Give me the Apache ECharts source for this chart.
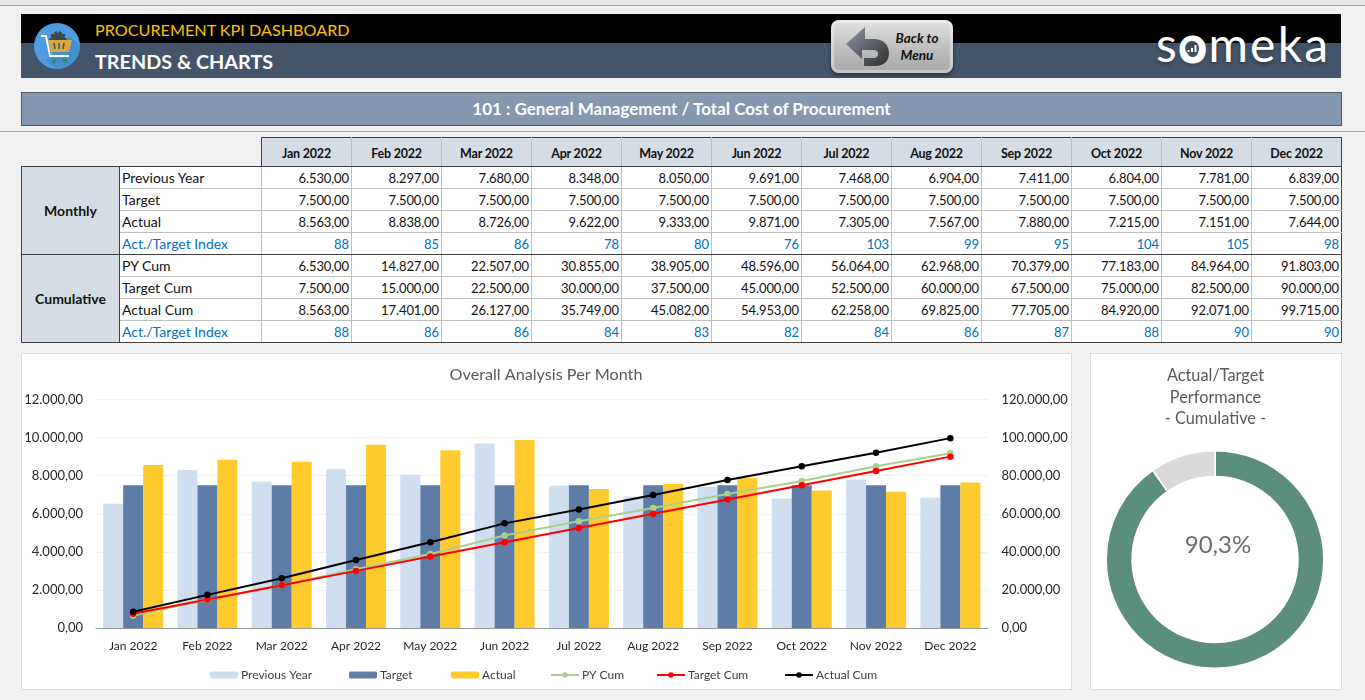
<!DOCTYPE html>
<html lang="en">
<head>
<meta charset="utf-8">
<title>Procurement KPI Dashboard</title>
<script src="https://cdn.jsdelivr.net/npm/echarts@6/dist/echarts.min.js"></script>
<style>
  html, body { margin: 0; padding: 0; }
  body { width: 1365px; height: 700px; position: relative; overflow: hidden; background: #f1f1f1;
         font-family: Lato, "Open Sans", sans-serif; }
  .abs { position: absolute; box-sizing: border-box; }
  #topstrip { left: 0; top: 0; width: 1365px; height: 6px; background: #e6e6e6; border-bottom: 1px solid #a6a6a6; }
  #rule { left: 0; top: 131px; width: 1365px; height: 1px; background: #a6a6a6; }
  #bandTop { left: 21px; top: 14px; width: 1320px; height: 29px; background: #000; }
  #bandBottom { left: 21px; top: 43px; width: 1320px; height: 35px; background: #44546a; }
  #kicker { left: 95px; top: 18px; font-size: 16.2px; line-height: 24px; color: #ffc000; white-space: nowrap; }
  #heading { left: 95px; top: 47px; font-size: 19.8px; line-height: 28px; font-weight: 700; color: #fff; white-space: nowrap; }
  #subbar { left: 21px; top: 92px; width: 1321px; height: 34px; background: #8497b0; border: 1px solid #595959;
            color: #fff; font-weight: 700; font-size: 17px; line-height: 32px; text-align: center; }
  #backBtn { left: 831px; top: 20px; width: 122px; height: 53px; border-radius: 8px;
             background: linear-gradient(#e2e2e2, #bdbdbd 55%, #a9a9a9);
             box-shadow: inset 0 0 0 3px rgba(255,255,255,.35), 0 2px 4px rgba(0,0,0,.45); }
  #backBtn span { position: absolute; left: 62px; width: 48px; text-align: center; font-size: 13.5px; line-height: 16px;
                  font-style: italic; font-weight: 700; color: #111; white-space: nowrap; }
  #brand { left: 1156px; top: 16px; font-size: 48px; line-height: 56px; color: #fff; letter-spacing: 2.2px; white-space: nowrap;
           text-shadow: 0 2px 4px rgba(0,0,0,.35); }
  #brand b { font-weight: 400; -webkit-text-stroke: 3px #fff; }
  table { border-collapse: collapse; table-layout: fixed; position: absolute; left: 21px; top: 137px; width: 1320px; font-size: 14px; color: #111; }
  td, th { padding: 0 2px; height: 22px; box-sizing: border-box; border: 1px solid #bfbfbf; background: #fff; white-space: nowrap; overflow: hidden; }
  thead th { height: 29px; padding-top: 2px; background: #d6dce4; font-size: 12.5px; letter-spacing: -0.2px; font-weight: 700; border-top: 1px solid #404040; border-bottom: 1px solid #404040; border-color: #404040 #bfbfbf; }
  thead th.blank { background: transparent; border: none; border-right: 1px solid #404040; border-bottom: 1px solid #404040; }
  thead th:last-child { border-right: 1px solid #404040; }
  td.num { text-align: right; font-size: 13px; letter-spacing: -0.1px; }
  td:last-child { border-right: 1px solid #404040; }
  td.group { background: #d6dce4; font-weight: 700; text-align: center; border: 1px solid #404040; }
  tr.idx td { color: #0070c0; }
  tr.idx td.group { color: #111; }
  tr.end td { border-bottom: 1px solid #404040; }
  .panel { background: #fff; border: 1px solid #dcdcdc; }
  #panelBars { left: 21px; top: 353px; width: 1051px; height: 337px; }
  #panelRing { left: 1090px; top: 353px; width: 252px; height: 337px; }
  #charts { left: 0; top: 0; width: 1365px; height: 700px; }
</style>
</head>
<body>
<div class="abs" id="topstrip"></div>
<div class="abs" id="bandTop"></div>
<div class="abs" id="bandBottom"></div>

<svg class="abs" style="left:34px;top:23px" width="46" height="46" viewBox="0 0 46 46">
  <circle cx="23" cy="23" r="23" fill="#4f9ddf"/>
  <path d="M23 46A23 23 0 0 0 46 23L36 13 12 38Z" fill="#468fce"/>
  <circle cx="24" cy="17" r="7.5" fill="#3c4652" stroke="#3c4652" stroke-width="2.5" stroke-dasharray="2.5 2"/>
  <path d="M14 17H38L35 29H17Z" fill="#d9a63f"/>
  <path d="M20 20l1 6M25 20v6M30 20l-1 6" stroke="#44546a" stroke-width="1.6"/>
  <path d="M7 13H12L16 33H35" fill="none" stroke="#fff" stroke-width="1.8"/>
  <circle cx="20" cy="38" r="2.4" fill="#2f8a78"/><circle cx="31" cy="38" r="2.4" fill="#2f8a78"/>
</svg>

<div class="abs" id="kicker">PROCUREMENT KPI DASHBOARD</div>
<div class="abs" id="heading">TRENDS &amp; CHARTS</div>

<div class="abs" id="backBtn">
  <svg style="position:absolute;left:12px;top:5px" width="48" height="44" viewBox="0 0 48 44">
    <defs><linearGradient id="arrowShade" x1="0" y1="0" x2="1" y2="1"><stop offset="0" stop-color="#8e98a6"/><stop offset="1" stop-color="#2e2e2e"/></linearGradient></defs>
    <path d="M22 2L3 19L19 34V25H30C34 25 35 27 35 29C35 31 34 33 30 33H21V41H32C41 41 46 36 46 28C46 20 40 14 31 14H22Z" fill="url(#arrowShade)"/>
  </svg>
  <span style="top:10px">Back to</span>
  <span style="top:27px">Menu</span>
</div>

<div class="abs" id="brand">s<b>o</b>meka</div>
<svg class="abs" style="left:1182px;top:38px" width="20" height="20" viewBox="0 0 20 20">
  <circle cx="10" cy="10" r="7" fill="#3f4a58"/>
  <path d="M6.5 14v-2M10 14v-4M13.5 14v-7" stroke="#fff" stroke-width="2"/>
</svg>

<div class="abs" id="subbar">101 : General Management / Total Cost of Procurement</div>
<div class="abs" id="rule"></div>

<table id="kpiTable"></table>

<div class="abs panel" id="panelBars"></div>
<div class="abs panel" id="panelRing"></div>
<div class="abs" id="charts"></div>

<script>
// Reporting periods
const months = ['Jan 2022','Feb 2022','Mar 2022','Apr 2022','May 2022','Jun 2022','Jul 2022','Aug 2022','Sep 2022','Oct 2022','Nov 2022','Dec 2022'];

// Monthly figures
const previousYear = [6530,8297,7680,8348,8050,9691,7468,6904,7411,6804,7781,6839];
const target = [7500,7500,7500,7500,7500,7500,7500,7500,7500,7500,7500,7500];
const actual = [8563,8838,8726,9622,9333,9871,7305,7567,7880,7215,7151,7644];
const monthlyIndex = [88,85,86,78,80,76,103,99,95,104,105,98];

// Running totals
const pyCum = [6530,14827,22507,30855,38905,48596,56064,62968,70379,77183,84964,91803];
const targetCum = [7500,15000,22500,30000,37500,45000,52500,60000,67500,75000,82500,90000];
const actualCum = [8563,17401,26127,35749,45082,54953,62258,69825,77705,84920,92071,99715];
const cumulativeIndex = [88,86,86,84,83,82,84,86,87,88,90,90];

// Ring: share reached, remainder
const performance = [90.3, 9.7];
const performanceLabel = '90,3%';

// Number format used by the table and the axes: 12.345,00
const money = v => Math.floor(v).toString().replace(/\B(?=(\d{3})+(?!\d))/g, '.') + ',00';

// KPI table
const blocks = [
  { name: 'Monthly', rows: [['Previous Year', previousYear, money], ['Target', target, money], ['Actual', actual, money], ['Act./Target Index', monthlyIndex, String]] },
  { name: 'Cumulative', rows: [['PY Cum', pyCum, money], ['Target Cum', targetCum, money], ['Actual Cum', actualCum, money], ['Act./Target Index', cumulativeIndex, String]] }
];
let html = '<colgroup><col style="width:98px"><col style="width:142px">' + months.map(() => '<col style="width:90px">').join('') + '</colgroup>';
html += '<thead><tr><th class="blank" colspan="2"></th>' + months.map(m => '<th>' + m + '</th>').join('') + '</tr></thead><tbody>';
blocks.forEach(block => {
  block.rows.forEach((row, i) => {
    const last = i === block.rows.length - 1;
    html += '<tr class="' + (last ? 'idx end' : '') + '">';
    if (i === 0) html += '<td class="group" rowspan="4">' + block.name + '</td>';
    html += '<td>' + row[0] + '</td>' + row[1].map(v => '<td class="num">' + row[2](v) + '</td>').join('') + '</tr>';
  });
});
document.getElementById('kpiTable').innerHTML = html + '</tbody>';

// Combined bar/line chart and performance ring share one canvas
const chart = echarts.init(document.getElementById('charts'), null, { renderer: 'canvas' });
const face = 'Lato, "Open Sans", sans-serif';
const barSeries = (name, data, color) => ({ name, type: 'bar', data, barWidth: 20, barGap: 0, itemStyle: { color } });
const lineSeries = (name, data, color) => ({
  name, type: 'line', yAxisIndex: 1, data, symbol: 'circle', symbolSize: 6.5, showSymbol: true,
  lineStyle: { color, width: 2 }, itemStyle: { color }, z: 5
});

// Each legend entry is placed on its own so the spacing stays even across text widths
const legendSlots = [['Previous Year', 210], ['Target', 349], ['Actual', 451], ['PY Cum', 550], ['Target Cum', 656], ['Actual Cum', 784]];

chart.setOption({
  animation: false,
  backgroundColor: 'transparent',
  textStyle: { fontFamily: face },
  title: [
    { text: 'Overall Analysis Per Month', left: 541, top: 362, textAlign: 'center',
      textStyle: { fontFamily: face, fontSize: 16.2, fontWeight: 400, color: '#595959' } },
    { text: 'Actual/Target\nPerformance\n- Cumulative -', left: 1210.5, top: 360, textAlign: 'center',
      textStyle: { fontFamily: face, fontSize: 16.3, fontWeight: 400, color: '#595959', lineHeight: 21.5 } },
    { text: performanceLabel, left: 1213, top: 528, textAlign: 'center',
      textStyle: { fontFamily: face, fontSize: 24, fontWeight: 400, color: '#6b6b6b' } }
  ],
  legend: legendSlots.map(([name, left]) => ({
    left, top: 669, padding: 0, itemWidth: 28, itemHeight: 7,
    textStyle: { fontFamily: face, fontSize: 12, color: '#404040', padding: [0, 0, 0, -2] },
    data: [name]
  })),
  grid: { left: 96, top: 399.5, width: 891.5, height: 228.5, containLabel: false },
  xAxis: {
    type: 'category', data: months,
    axisLine: { lineStyle: { color: '#999999', width: 1 } },
    axisTick: { show: false },
    axisLabel: { fontFamily: face, fontSize: 12, color: '#262626', margin: 12, interval: 0 }
  },
  yAxis: [
    { type: 'value', min: 0, max: 12000, interval: 2000,
      axisLine: { show: false }, axisTick: { show: false },
      axisLabel: { fontFamily: face, fontSize: 13, color: '#262626', margin: 13, formatter: money },
      splitLine: { lineStyle: { color: '#f0f0f0', width: 1 } } },
    { type: 'value', min: 0, max: 120000, interval: 20000, position: 'right',
      axisLine: { show: false }, axisTick: { show: false },
      axisLabel: { fontFamily: face, fontSize: 13, color: '#262626', margin: 14, formatter: money },
      splitLine: { show: false } }
  ],
  series: [
    barSeries('Previous Year', previousYear, '#cfdff1'),
    barSeries('Target', target, '#5e7da6'),
    barSeries('Actual', actual, '#ffca2e'),
    lineSeries('PY Cum', pyCum, '#a9d18e'),
    lineSeries('Target Cum', targetCum, '#ff0000'),
    lineSeries('Actual Cum', actualCum, '#000000'),
    { type: 'pie', center: [1215, 559.5], radius: [83, 108.8], startAngle: 90, clockwise: true,
      silent: true, label: { show: false }, labelLine: { show: false },
      itemStyle: { borderColor: '#fff', borderWidth: 1.5 },
      data: [
        { value: performance[0], name: 'Actual/Target', itemStyle: { color: '#5b8e7d' } },
        { value: performance[1], name: 'Remaining', itemStyle: { color: '#d9d9d9' } }
      ] }
  ]
});
</script>
</body>
</html>
